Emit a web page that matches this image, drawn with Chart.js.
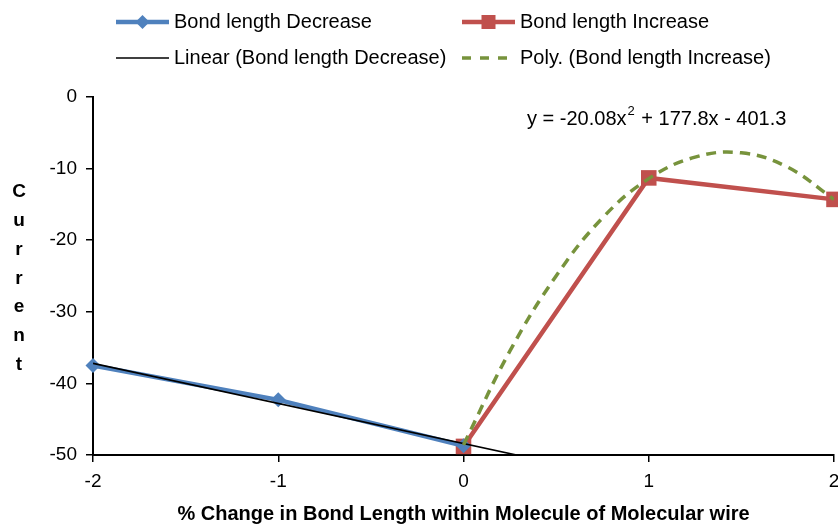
<!DOCTYPE html>
<html>
<head>
<meta charset="utf-8">
<script src="https://cdn.jsdelivr.net/npm/chart.js@4"></script>
<style>
  html, body { margin: 0; padding: 0; background: #fff; overflow: hidden; }
  #wrap { width: 860px; height: 524px; }
</style>
</head>
<body>
<div id="wrap"><canvas id="myChart" width="860" height="524"></canvas></div>
<script>
  // data
  var decreaseX = [-2, -1, 0];
  var decreaseY = [-37.5, -42.3, -48.7];
  var increaseX = [0, 1, 2];
  var increaseY = [-48.8, -11.3, -14.3];
  // linear trend of the decrease series (runs off the bottom of the plot)
  var linearX = [-2, 2];
  var linearY = [-37.2, -59.6];
  // polynomial trend of the increase series
  var polyX = [0, 0.25, 0.5, 0.75, 1, 1.25, 1.5, 1.75, 2];
  var polyY = [-48.6, -35.5, -25.0, -16.9, -11.4, -8.4, -7.8, -9.8, -14.3];
  var equation = ["y = -20.08x", "2", " + 177.8x - 401.3"];
  var yTitle = "Current";
  var xTitle = "% Change in Bond Length within Molecule of Molecular wire";

  var FONT = '"Liberation Sans", Arial, Helvetica, sans-serif';
  var blue = "#4F81BD", red = "#C0504D", green = "#77933C";

  function pts(xs, ys) {
    return xs.map(function (x, i) { return { x: x, y: ys[i] }; });
  }

  var legendItems = [
    { text: "Bond length Decrease", color: blue, width: 4.5, marker: "diamond", x: 116, y: 22 },
    { text: "Bond length Increase", color: red, width: 4.5, marker: "square", x: 462, y: 22 },
    { text: "Linear (Bond length Decrease)", color: "#000", width: 1.5, x: 116, y: 58 },
    { text: "Poly. (Bond length Increase)", color: green, width: 3.5, dash: [9, 9], x: 462, y: 58 }
  ];

  var extras = {
    id: "extras",
    afterDraw: function (chart) {
      var c = chart.ctx;
      c.save();
      // legend
      c.font = "20px " + FONT;
      c.textBaseline = "middle";
      legendItems.forEach(function (it) {
        c.strokeStyle = it.color;
        c.lineWidth = it.width;
        c.setLineDash(it.dash || []);
        c.beginPath();
        c.moveTo(it.x, it.y);
        c.lineTo(it.x + 53, it.y);
        c.stroke();
        c.setLineDash([]);
        var mx = it.x + 26.5;
        c.fillStyle = it.color;
        if (it.marker === "diamond") {
          c.beginPath();
          c.moveTo(mx, it.y - 7); c.lineTo(mx + 7, it.y); c.lineTo(mx, it.y + 7); c.lineTo(mx - 7, it.y);
          c.closePath(); c.fill();
        } else if (it.marker === "square") {
          c.fillRect(mx - 7, it.y - 7, 14, 14);
        }
        c.fillStyle = "#000";
        c.textAlign = "left";
        c.fillText(it.text, it.x + 58, it.y);
      });
      // equation
      var ex = 527, ey = 119;
      c.fillText(equation[0], ex, ey);
      ex += c.measureText(equation[0]).width;
      c.font = "13px " + FONT;
      c.fillText(equation[1], ex + 1, ey - 8);
      ex += c.measureText(equation[1]).width + 2;
      c.font = "20px " + FONT;
      c.fillText(equation[2], ex, ey);
      // vertical y title
      c.font = "bold 19px " + FONT;
      c.textAlign = "center";
      for (var i = 0; i < yTitle.length; i++) {
        c.fillText(yTitle[i], 19, 192 + i * 28.8);
      }
      // x title
      c.font = "bold 20px " + FONT;
      c.fillText(xTitle, (chart.chartArea.left + chart.chartArea.right) / 2, 514);
      c.restore();
    }
  };

  var ctx = document.getElementById("myChart");
  var chart = new Chart(ctx, {
    type: "line",
    data: {
      datasets: [
        {
          label: "Linear (Bond length Decrease)",
          data: pts(linearX, linearY),
          borderColor: "#000", borderWidth: 1.6,
          pointRadius: 0, clip: 0, order: 1
        },
        {
          label: "Bond length Decrease",
          data: pts(decreaseX, decreaseY),
          borderColor: blue, backgroundColor: blue, borderWidth: 4.5,
          pointStyle: "rectRot", pointRadius: 7.5, pointBorderWidth: 0, clip: false, order: 2
        },
        {
          label: "Bond length Increase",
          data: pts(increaseX, increaseY),
          borderColor: red, backgroundColor: red, borderWidth: 4.5,
          pointStyle: "rect", pointRadius: 11, pointBorderWidth: 0, clip: false, order: 3
        },
        {
          label: "Poly. (Bond length Increase)",
          data: pts(polyX, polyY),
          borderColor: green, borderWidth: 3.5, borderDash: [10, 7],
          pointRadius: 0, tension: 0.4, clip: 0, order: 0
        }
      ]
    },
    options: {
      responsive: false,
      animation: false,
      layout: { padding: { left: 0, top: 97, right: 26, bottom: 0 } },
      plugins: { legend: { display: false }, tooltip: { enabled: false } },
      scales: {
        x: {
          type: "linear", min: -2, max: 2,
          afterFit: function (s) { s.height = 69; },
          grid: { drawOnChartArea: false, drawTicks: true, tickLength: 7, color: "#000", lineWidth: 1.5 },
          border: { display: true, color: "#000", width: 2 },
          ticks: { stepSize: 1, color: "#000", font: { family: FONT, size: 19 }, padding: 8, maxRotation: 0 }
        },
        y: {
          min: -50, max: 0,
          afterFit: function (s) { s.width = 93; },
          grid: { drawOnChartArea: false, drawTicks: true, tickLength: 7, color: "#000", lineWidth: 1.5 },
          border: { display: true, color: "#000", width: 2 },
          ticks: { stepSize: 10, color: "#000", font: { family: FONT, size: 19 }, padding: 9 }
        }
      }
    },
    plugins: [extras]
  });
</script>
</body>
</html>
